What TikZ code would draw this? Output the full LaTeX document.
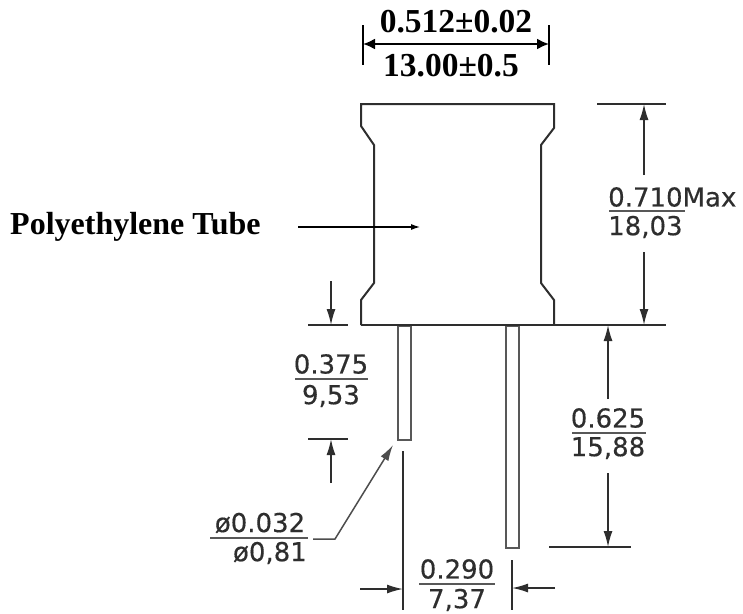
\documentclass[tikz,border=0pt]{standalone}
\usepackage{fontspec}
\setmainfont{Liberation Serif}
\newfontfamily\drawfont[FakeBold=0.4]{DejaVu Sans}
\usetikzlibrary{arrows.meta}
\definecolor{ink}{HTML}{2E2E2E}
\tikzset{
  outline/.style={draw=ink,line width=2pt,line join=miter},
  leadbox/.style={draw=ink!80,line width=2pt},
  extline/.style={draw=ink,line width=1.7pt},
  bar/.style={draw=ink!80,line width=2.2pt},
  dimline/.style={draw=ink,line width=1.5pt,-{Latex[length=16pt,width=9pt]}},
  leaderline/.style={draw=ink!85,line width=1.5pt},
  topext/.style={draw=black,line width=2.2pt},
  topdim/.style={draw=black,line width=2pt,{Latex[length=12pt,width=11pt]}-{Latex[length=12pt,width=11pt]}},
  thinarrow/.style={draw=black,line width=1.1pt,-{Latex[length=9pt,width=6pt]}},
  dimtext/.style={inner sep=0pt,text=ink,font=\drawfont\fontsize{26}{26}\selectfont},
  boldtext/.style={inner sep=0pt,text=black,font=\bfseries\fontsize{33.5}{33.5}\selectfont},
  labeltext/.style={inner sep=0pt,text=black,font=\bfseries\fontsize{32}{32}\selectfont}
}
\begin{document}
\begin{tikzpicture}[x=1pt,y=-1pt]
\useasboundingbox (0,0) rectangle (743,613);
% body
\draw[outline] (361,325) -- (361,300) -- (374,283) -- (374,145) -- (361,126) -- (361,104)
  -- (554,104) -- (554,128) -- (541,145) -- (541,283) -- (554,300) -- (554,325);
% leads
\node[leadbox,minimum width=13pt,minimum height=114pt,inner sep=0pt,anchor=north west] (leadA) at (397,325) {};
\node[leadbox,minimum width=13pt,minimum height=222pt,inner sep=0pt,anchor=north west] (leadB) at (505,325) {};
% extension lines
\coordinate (bl) at (361,325); \coordinate (br) at (666,325);
\coordinate (tl) at (597,104); \coordinate (tr) at (666,104);
\draw[extline] (bl) -- (br);
\draw[extline] (tl) -- (tr);
\coordinate (e1) at (308,325); \coordinate (e2) at (348,325);
\draw[extline] (e1) -- (e2);
\coordinate (e3) at (308,439); \coordinate (e4) at (348,439);
\draw[extline] (e3) -- (e4);
\coordinate (e5) at (549,547); \coordinate (e6) at (631,547);
\draw[extline] (e5) -- (e6);
\coordinate (e7) at (403,451); \coordinate (e8) at (403,610);
\draw[extline] (e7) -- (e8);
\coordinate (e9) at (512,560); \coordinate (e10) at (512,610);
\draw[extline] (e9) -- (e10);
% dimension arrows
\coordinate (a1s) at (331,281); \coordinate (a1e) at (331,325);
\draw[dimline] (a1s) -- (a1e);
\coordinate (a2s) at (331,483); \coordinate (a2e) at (331,439);
\draw[dimline] (a2s) -- (a2e);
\coordinate (a3s) at (644,175); \coordinate (a3e) at (644,104);
\draw[dimline] (a3s) -- (a3e);
\coordinate (a4s) at (644,252); \coordinate (a4e) at (644,325);
\draw[dimline] (a4s) -- (a4e);
\coordinate (a5s) at (608,399); \coordinate (a5e) at (608,325);
\draw[dimline] (a5s) -- (a5e);
\coordinate (a6s) at (608,473); \coordinate (a6e) at (608,547);
\draw[dimline] (a6s) -- (a6e);
\coordinate (a7s) at (360,589); \coordinate (a7e) at (403,589);
\draw[dimline] (a7s) -- (a7e);
\coordinate (a8s) at (555,588); \coordinate (a8e) at (512,588);
\draw[dimline] (a8s) -- (a8e);
% leader
\coordinate (l1) at (313,539); \coordinate (l2) at (335,539); \coordinate (l3) at (393,445);
\draw[leaderline,-{Latex[length=16pt,width=9pt]}] (l1) -- (l2) -- (l3);
% top dimension
\coordinate (t1) at (363,25); \coordinate (t2) at (363,65);
\coordinate (t3) at (549,25); \coordinate (t4) at (549,65);
\coordinate (t5) at (363,44); \coordinate (t6) at (549,44);
\draw[topext] (t1) -- (t2);
\draw[topext] (t3) -- (t4);
\draw[topdim] (t5) -- (t6);
\node[boldtext] (topA) at (456,22) {0.512±0.02};
\node[boldtext] (topB) at (451,66) {13.00±0.5};
% polyethylene label
\node[labeltext,anchor=west] (poly) at (10,227) {Polyethylene Tube};
\coordinate (p1) at (298,227); \coordinate (p2) at (420,227);
\draw[thinarrow] (p1) -- (p2);
% fractions
\coordinate (b1a) at (295,379); \coordinate (b1b) at (368,379);
\draw[bar] (b1a) -- (b1b);
\node[dimtext] (f1a) at (331,364) {0.375};
\node[dimtext] (f1b) at (331,396) {9,53};
\coordinate (b2a) at (609,211); \coordinate (b2b) at (685,211);
\draw[bar] (b2a) -- (b2b);
\node[dimtext,anchor=west] (f2a) at (608,197) {0.710Max};
\node[dimtext,anchor=west] (f2b) at (608,227) {18,03};
\coordinate (b3a) at (572,433); \coordinate (b3b) at (646,433);
\draw[bar] (b3a) -- (b3b);
\node[dimtext] (f3a) at (608,418) {0.625};
\node[dimtext] (f3b) at (608,448) {15,88};
\coordinate (b4a) at (419,584); \coordinate (b4b) at (495,584);
\draw[bar] (b4a) -- (b4b);
\node[dimtext] (f4a) at (457,569) {0.290};
\node[dimtext] (f4b) at (457,600) {7,37};
\coordinate (b5a) at (210,538); \coordinate (b5b) at (308,538);
\draw[bar] (b5a) -- (b5b);
\node[dimtext] (f5a) at (260,523) {ø0.032};
\node[dimtext,anchor=east] (f5b) at (307,553) {ø0,81};
\end{tikzpicture}
\end{document}
